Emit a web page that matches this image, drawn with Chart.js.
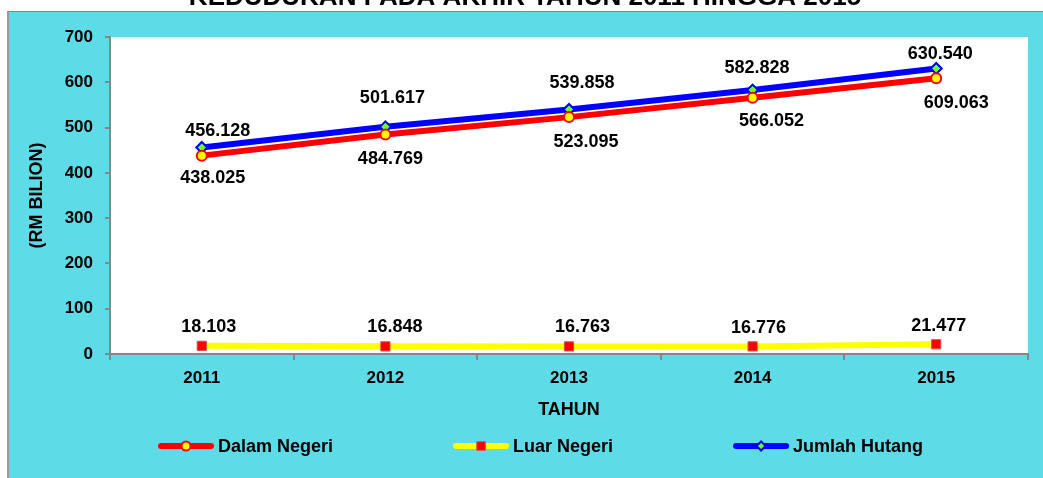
<!DOCTYPE html>
<html><head><meta charset="utf-8">
<script src="https://cdn.jsdelivr.net/npm/chart.js@4.4.1/dist/chart.umd.min.js"></script>
<style>html,body{margin:0;padding:0;background:#fff;overflow:hidden}canvas{display:block}</style>
</head><body>
<canvas id="c" width="1043" height="478"></canvas>
<script>
// ---- data ----
const chartTitle = 'KEDUDUKAN PADA AKHIR TAHUN 2011 HINGGA 2015';
const categories = ['2011', '2012', '2013', '2014', '2015'];
const seriesNames = ['Dalam Negeri', 'Luar Negeri', 'Jumlah Hutang'];
const dalamNegeri = [438.025, 484.769, 523.095, 566.052, 609.063];
const luarNegeri = [18.103, 16.848, 16.763, 16.776, 21.477];
const jumlahHutang = [456.128, 501.617, 539.858, 582.828, 630.540];
const yMin = 0, yMax = 700, yStep = 100;
const yTitle = '(RM BILION)';
const xTitle = 'TAHUN';

// ---- layout / style (not data) ----
const FONT = "'Liberation Sans', Arial, sans-serif";
const CYAN = '#5DDCE8';
const GREY = '#868686';
const labelOffsets = [
  [[11, 22], [5, 25], [17, 25], [19, 23], [20, 25]],
  [[7, -19], [9.5, -19], [13.5, -19], [6, -18], [2.5, -18]],
  [[16, -16], [7, -29], [13, -26], [4.5, -22], [4, -14]]
];

function drawMarker(ctx, style, r, x, y) {
  ctx.beginPath();
  if (style === 'circle') {
    ctx.arc(x, y, r, 0, Math.PI * 2);
  } else if (style === 'rect') {
    const s = r * Math.SQRT1_2;
    ctx.rect(x - s, y - s, 2 * s, 2 * s);
  } else {
    ctx.moveTo(x, y - r); ctx.lineTo(x + r, y); ctx.lineTo(x, y + r); ctx.lineTo(x - r, y); ctx.closePath();
  }
  ctx.fill();
  ctx.stroke();
}

const backgroundPlugin = {
  id: 'bg',
  beforeDraw(chart) {
    const ctx = chart.ctx, W = chart.width, H = chart.height, a = chart.chartArea;
    ctx.save();
    ctx.fillStyle = '#fff';
    ctx.fillRect(0, 0, W, H);
    ctx.fillStyle = '#000';
    ctx.font = 'bold 26px ' + FONT;
    ctx.textAlign = 'center';
    ctx.textBaseline = 'alphabetic';
    ctx.fillText(chartTitle, 525, 5);
    ctx.fillStyle = CYAN;
    ctx.fillRect(8, 11, W - 8, H - 11);
    ctx.strokeStyle = GREY;
    ctx.lineWidth = 1;
    ctx.beginPath(); ctx.moveTo(8, 11.5); ctx.lineTo(W, 11.5); ctx.stroke();
    ctx.strokeStyle = '#9a9a9a';
    ctx.lineWidth = 2;
    ctx.beginPath(); ctx.moveTo(8, 11); ctx.lineTo(8, H); ctx.stroke();
    ctx.fillStyle = '#fff';
    ctx.fillRect(a.left, a.top, a.right - a.left, a.bottom - a.top);
    ctx.restore();
  }
};

const labelsPlugin = {
  id: 'vlabels',
  afterDatasetsDraw(chart) {
    const ctx = chart.ctx;
    ctx.save();
    ctx.font = 'bold 18px ' + FONT;
    ctx.fillStyle = '#000';
    ctx.textAlign = 'center';
    ctx.textBaseline = 'middle';
    chart.data.datasets.forEach((ds, di) => {
      const meta = chart.getDatasetMeta(di);
      meta.data.forEach((pt, i) => {
        const off = labelOffsets[di][i];
        ctx.fillText(ds.data[i].toFixed(3), pt.x + off[0], pt.y + off[1]);
      });
    });
    ctx.restore();
  }
};

const legendPlugin = {
  id: 'customLegend',
  afterDraw(chart) {
    const ctx = chart.ctx;
    const y = 446, lineLen = 56, textGap = 4, itemGap = 120;
    let x = 158;
    ctx.save();
    ctx.font = 'bold 18px ' + FONT;
    ctx.textBaseline = 'middle';
    ctx.textAlign = 'left';
    chart.data.datasets.forEach(ds => {
      ctx.strokeStyle = ds.borderColor;
      ctx.lineWidth = 6;
      ctx.lineCap = 'round';
      ctx.beginPath(); ctx.moveTo(x + 3, y); ctx.lineTo(x + lineLen - 3, y); ctx.stroke();
      ctx.lineCap = 'butt';
      ctx.fillStyle = ds.pointBackgroundColor;
      ctx.strokeStyle = ds.pointBorderColor;
      ctx.lineWidth = ds.pointBorderWidth;
      drawMarker(ctx, ds.pointStyle, ds.pointStyle === 'rect' ? 6 : 4.5, x + lineLen / 2, y);
      ctx.fillStyle = '#000';
      ctx.fillText(ds.label, x + lineLen + textGap, y + 1);
      x += lineLen + textGap + ctx.measureText(ds.label).width + itemGap;
    });
    ctx.restore();
  }
};

Chart.defaults.font.family = FONT;

new Chart(document.getElementById('c'), {
  type: 'line',
  data: {
    labels: categories,
    datasets: [
      { label: seriesNames[0], data: dalamNegeri, borderColor: '#ff0000', borderWidth: 6,
        pointStyle: 'circle', pointRadius: 5, pointBackgroundColor: '#ffff00', pointBorderColor: '#ff0000', pointBorderWidth: 2, tension: 0 },
      { label: seriesNames[1], data: luarNegeri, borderColor: '#ffff00', borderWidth: 6,
        pointStyle: 'rect', pointRadius: 6.5, pointBackgroundColor: '#ff0000', pointBorderColor: '#d94a4a', pointBorderWidth: 1, tension: 0 },
      { label: seriesNames[2], data: jumlahHutang, borderColor: '#0000ff', borderWidth: 6,
        pointStyle: 'rectRot', pointRadius: 5.5, pointBackgroundColor: '#66ff33', pointBorderColor: '#0000ff', pointBorderWidth: 2, tension: 0 }
    ]
  },
  options: {
    responsive: false,
    devicePixelRatio: 1,
    animation: false,
    events: [],
    layout: { padding: { top: 37, right: 15, bottom: 54, left: 10 } },
    plugins: { legend: { display: false }, title: { display: false }, tooltip: { enabled: false } },
    scales: {
      x: {
        type: 'category',
        offset: true,
        grid: { display: true, drawOnChartArea: false, offset: true, tickLength: 6, color: GREY, lineWidth: 2 },
        border: { display: true, color: GREY, width: 2 },
        ticks: { font: { size: 17, weight: 'bold' }, color: '#000', padding: 8, maxRotation: 0, autoSkip: false },
        title: { display: true, text: xTitle, font: { size: 18, weight: 'bold' }, color: '#000', padding: { top: 4, bottom: 3 } },
        afterFit(s) { s.height = 70; }
      },
      y: {
        min: yMin, max: yMax,
        ticks: { stepSize: yStep, font: { size: 17, weight: 'bold' }, color: '#000', padding: 12 },
        grid: { display: true, drawOnChartArea: false, tickLength: 5, color: GREY, lineWidth: 2 },
        border: { display: true, color: GREY, width: 2 },
        title: { display: true, text: yTitle, font: { size: 18, weight: 'bold' }, color: '#000', padding: { top: 16, bottom: 0 } },
        afterFit(s) { s.width = 100; }
      }
    }
  },
  plugins: [backgroundPlugin, labelsPlugin, legendPlugin]
});
</script>
</body></html>
